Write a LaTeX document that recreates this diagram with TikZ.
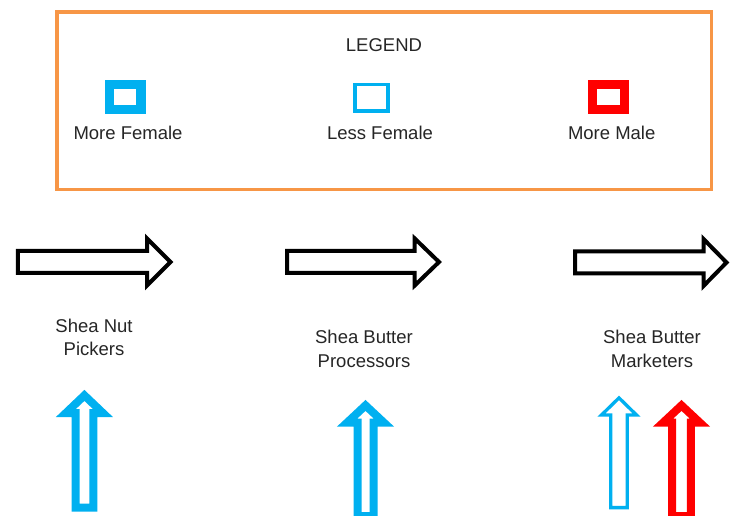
\documentclass[tikz,border=0pt]{standalone}
\usepackage{fontspec}
\setmainfont{Liberation Sans}
\definecolor{legorange}{HTML}{F79646}
\definecolor{femblue}{HTML}{00B0F0}
\definecolor{malered}{HTML}{FF0000}
\definecolor{txt}{HTML}{262626}
\newcommand{\hblock}[5]{% #1 name, #2 shaft start x, #3 head base x, #4 tip x, #5 center y
  \draw[flowarrow] (#2,#5-11) -- (#3,#5-11) -- (#3,#5-23.5) -- (#4,#5) -- (#3,#5+23.5) -- (#3,#5+11) -- (#2,#5+11) -- cycle;
  \coordinate (#1) at ({(#2+#4)/2},#5);}
\newcommand{\vblock}[8]{% #1 style, #2 cx, #3 tip y, #4 head base y, #5 bottom y, #6 shaft hw, #7 head hw, #8 name
  \draw[#1] (#2-#6,#5) -- (#2-#6,#4) -- (#2-#7,#4) -- (#2,#3) -- (#2+#7,#4) -- (#2+#6,#4) -- (#2+#6,#5) -- cycle;
  \coordinate (#8) at (#2,#4);}
\begin{document}
\begin{tikzpicture}[x=1pt,y=-1pt,
  lbl/.style={font=\fontsize{18.5}{23.4}\selectfont, text=txt, inner sep=0pt},
  flowarrow/.style={draw=black, line width=4pt, miter limit=10, line join=miter, fill=white},
  thickblue/.style={draw=femblue, line width=8pt, line join=miter, miter limit=10},
  thinblue/.style={draw=femblue, line width=3.3pt, line join=miter, miter limit=10},
  thickred/.style={draw=malered, line width=8pt, line join=miter, miter limit=10}]
\useasboundingbox (0,0) rectangle (732,516);
\clip (0,0) rectangle (732,516);
\fill[white] (0,0) rectangle (732,516);

% legend frame
\draw[legorange, line width=3.5pt] (57,12) rectangle (711.7,189.5);
\node[lbl, anchor=base] (legend) at (384,51.7) {LEGEND};

% legend keys
\draw[femblue, line width=9.4pt] (109.7,84.7) rectangle (140.8,109.7);
\draw[femblue, line width=3.8pt] (355.3,84.6) rectangle (388,110.8);
\draw[malered, line width=9pt] (592.5,84.7) rectangle (624.1,109.7);
\node[lbl, anchor=base] (kmf) at (128,140) {More Female};
\node[lbl, anchor=base] (klf) at (380,140) {Less Female};
\node[lbl, anchor=base] (kmm) at (611.7,140) {More Male};

% flow arrows
\hblock{f1}{17.8}{147}{170.5}{262}
\hblock{f2}{287}{414.7}{439}{262}
\hblock{f3}{575}{703.5}{726.5}{262.5}

% stage labels
\node[lbl, anchor=north, align=center] (pickers) at (94,318.4) {Shea Nut\\Pickers};
\node[lbl, anchor=north, align=center] (processors) at (364,330) {Shea Butter\\Processors};
\node[lbl, anchor=north, align=center] (marketers) at (652,330) {Shea Butter\\Marketers};

% gender arrows
\vblock{thickblue}{84.4}{395.4}{413}{507.5}{8.9}{18.5}{ga}
\vblock{thickblue}{365.5}{405.4}{422.7}{516}{8}{18.5}{gb}
\vblock{thinblue}{619}{397.9}{415}{507.6}{8.3}{17.5}{gc}
\vblock{thickred}{681.5}{405.4}{422.7}{516}{9.3}{18.5}{gd}
\end{tikzpicture}
\end{document}
